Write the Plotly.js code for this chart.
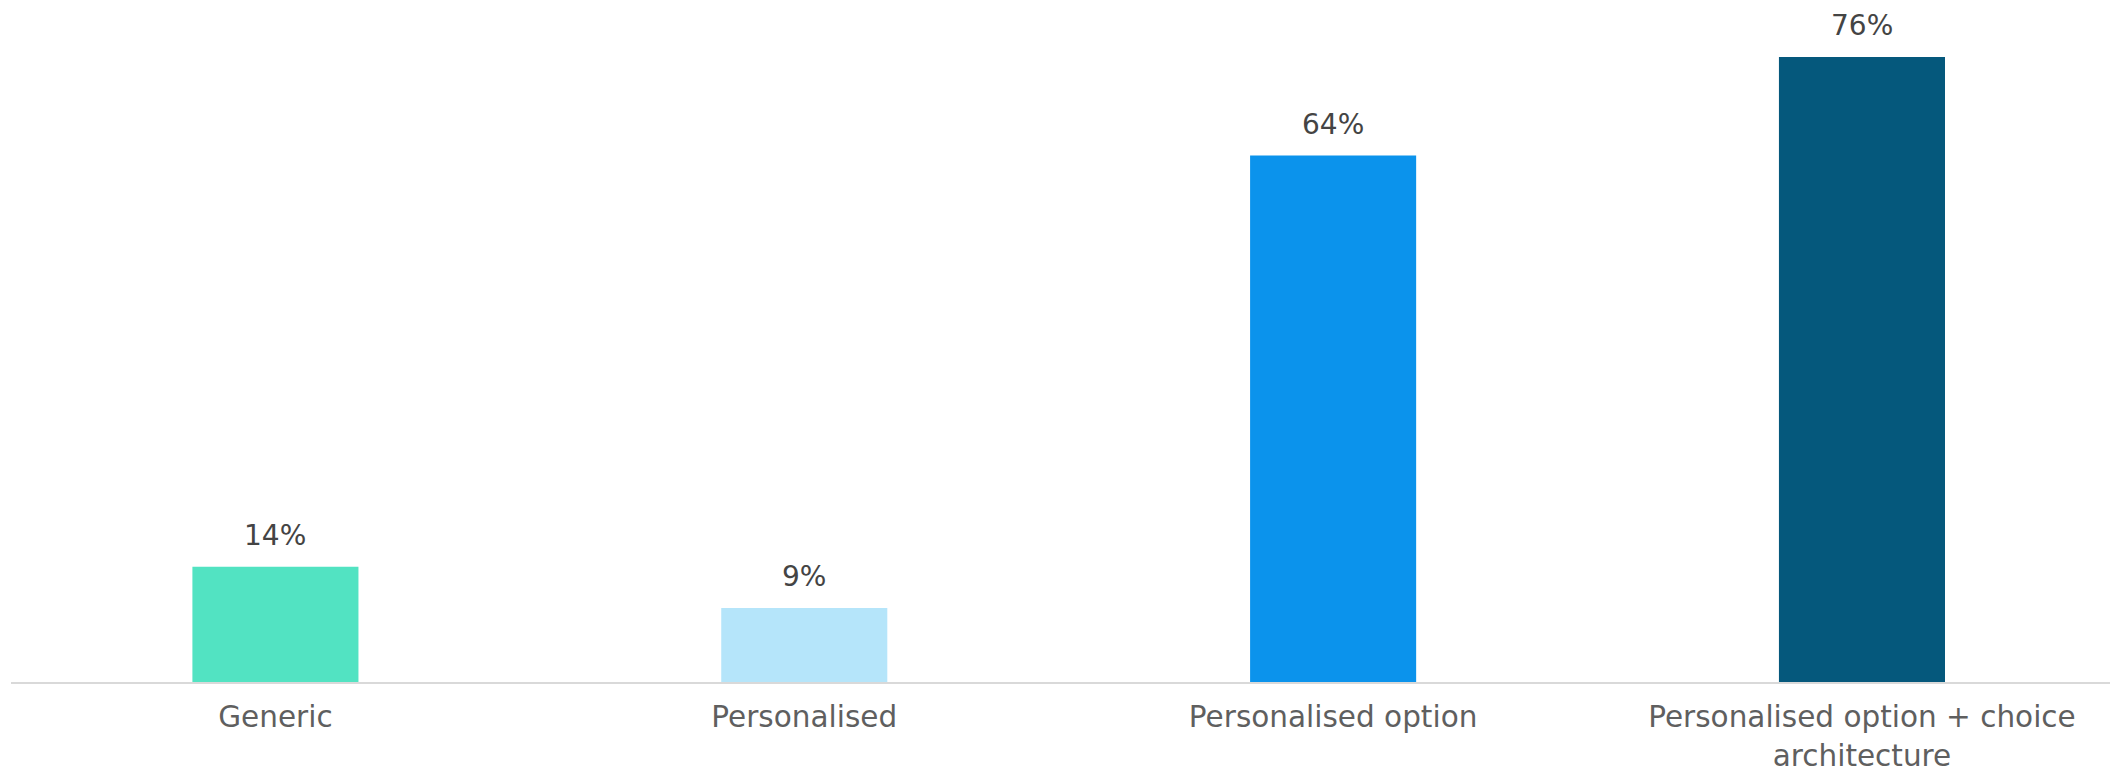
<!DOCTYPE html>
<html>
<head>
<meta charset="utf-8">
<script src="https://cdn.plot.ly/plotly-3.0.1.min.js"></script>
<style>html,body{margin:0;padding:0;background:#fff;}#chart{width:2110px;height:774px;}</style>
</head>
<body>
<div id="chart"></div>
<script>
const categories = ["Generic", "Personalised", "Personalised option", "Personalised option + choice<br>architecture"];
const values = [14, 9, 64, 76];
const labels = ["14%", "9%", "64%", "76%"];
const colors = ["#52E3C2", "#B5E5FA", "#0B93EC", "#05587C"];

const FONT = "DejaVu Sans, sans-serif";

const trace = {
  type: "bar",
  x: categories,
  y: values,
  marker: {color: colors},
  hoverinfo: "none"
};

const annotations = categories.map((c, i) => ({
  x: c, y: values[i], text: labels[i], showarrow: false,
  xanchor: "center", yanchor: "bottom", yshift: 13,
  font: {family: FONT, size: 28, color: "#444444"}
}));

const layout = {
  width: 2110, height: 774,
  margin: {l: 11, r: 0, t: 24, b: 92},
  paper_bgcolor: "#fff", plot_bgcolor: "#fff",
  bargap: 0.686,
  showlegend: false,
  xaxis: {
    type: "category",
    range: [-0.5, 3.469],
    showline: true, linecolor: "#d9d9d9", linewidth: 2,
    showgrid: false, zeroline: false, ticks: "",
    tickfont: {family: FONT, size: 29.5, color: "#5f5f5f"},
    ticklabelstandoff: 8
  },
  yaxis: {
    range: [0, 80], visible: false, showgrid: false, zeroline: false
  },
  annotations: annotations
};

Plotly.newPlot("chart", [trace], layout, {displayModeBar: false, staticPlot: true});
</script>
</body>
</html>
